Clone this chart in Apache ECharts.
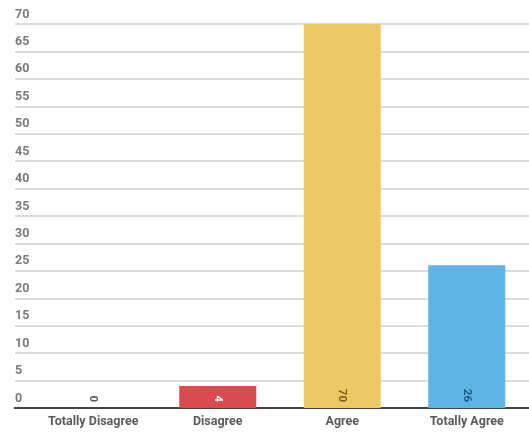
<!DOCTYPE html>
<html>
<head>
<meta charset="utf-8">
<script src="https://cdn.jsdelivr.net/npm/echarts@6/dist/echarts.min.js"></script>
<style>html,body{margin:0;padding:0;background:#fff;}#c{width:529px;height:432px;}</style>
</head>
<body>
<div id="c"></div>
<script>
const categories = ['Totally Disagree', 'Disagree', 'Agree', 'Totally Agree'];
const values = [0, 4, 70, 26];
const barColors = ['#9a9a9a', '#db4a4f', '#efc866', '#5db4e5'];
const labelColors = ['#555555', '#ffffff', '#7a5a1a', '#1d5a86'];
const yTicks = { min: 0, max: 70, interval: 5 };

const chart = echarts.init(document.getElementById('c'));
chart.setOption({
  animation: false,
  grid: { left: 31, right: 0, top: 24, bottom: 24, containLabel: false },
  xAxis: {
    type: 'category',
    data: categories,
    axisLine: { show: true, lineStyle: { color: '#444', width: 2 } },
    axisTick: { show: false },
    axisLabel: { color: '#5a5a5a', fontFamily: 'Roboto', fontWeight: 'bold', fontSize: 12.5, margin: 7 }
  },
  yAxis: [{
    type: 'value',
    min: yTicks.min, max: yTicks.max, interval: yTicks.interval,
    axisLine: { show: false },
    axisTick: { show: true, length: 16, lineStyle: { color: '#cfcfcf', width: 1.5 } },
    splitLine: { show: true, lineStyle: { color: '#cfcfcf', width: 1.5 } },
    axisLabel: {
      color: '#7a7a7a', fontFamily: 'Roboto', fontWeight: 'bold', fontSize: 12.5,
      align: 'left', verticalAlign: 'bottom', margin: 16, padding: [0, 0, 3, 0]
    }
  }, {
    type: 'value',
    min: yTicks.min, max: yTicks.max, interval: yTicks.interval,
    position: 'left',
    axisLine: { show: false },
    axisTick: { show: true, length: 17, customValues: [yTicks.min], lineStyle: { color: '#444', width: 2 } },
    splitLine: { show: false },
    axisLabel: { show: false }
  }],
  series: [{
    type: 'bar',
    barWidth: 77,
    data: values.map((v, i) => ({
      value: v,
      itemStyle: { color: barColors[i] },
      label: { color: labelColors[i] }
    })),
    label: {
      show: true,
      position: 'insideBottom',
      rotate: -90,
      distance: 6,
      fontFamily: 'Roboto',
      fontSize: 11.5,
      fontWeight: 'bold',
      align: 'right',
      verticalAlign: 'middle'
    }
  }]
});
</script>
</body>
</html>
